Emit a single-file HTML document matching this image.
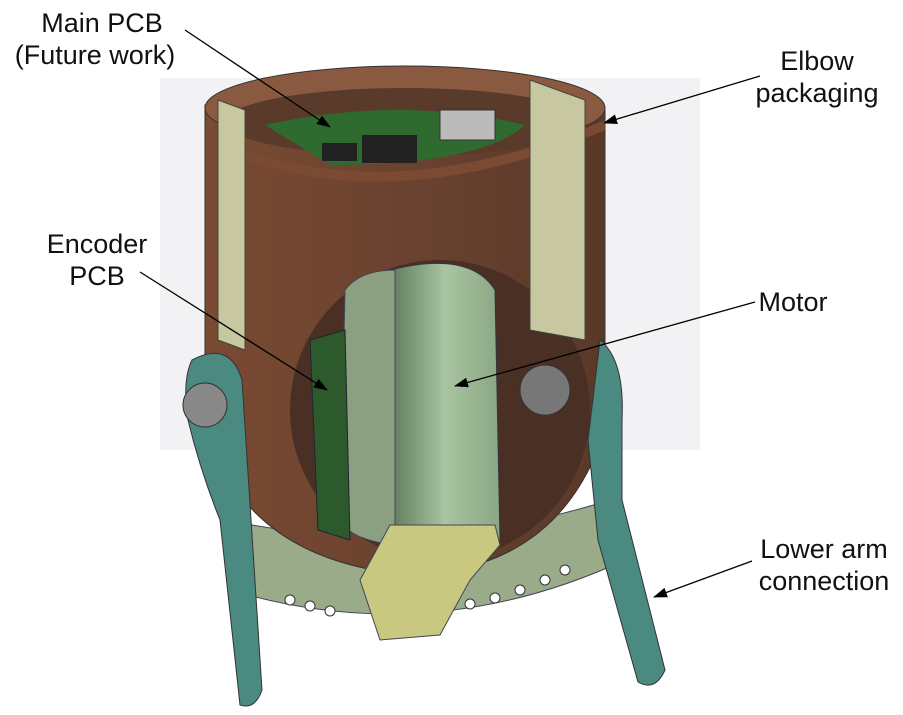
<!DOCTYPE html>
<html><head><meta charset="utf-8"><style>
html,body{margin:0;padding:0;background:#fff;}
svg{display:block;}
text{font-family:"Liberation Sans",sans-serif;font-size:27px;fill:#111;}
</style></head><body>
<svg width="903" height="715" viewBox="0 0 903 715">
<defs>
<marker id="ah" markerWidth="14" markerHeight="10" refX="13" refY="5" orient="auto" markerUnits="userSpaceOnUse"><path d="M0,0 L14,5 L0,10 z" fill="#000"/></marker>
<linearGradient id="brown" x1="0" x2="1"><stop offset="0" stop-color="#7a4a32"/><stop offset="0.5" stop-color="#6a4230"/><stop offset="1" stop-color="#5a3828"/></linearGradient>
<linearGradient id="motor" x1="0" x2="1"><stop offset="0" stop-color="#5f7a5c"/><stop offset="0.5" stop-color="#a8c4a0"/><stop offset="1" stop-color="#8aa684"/></linearGradient>
</defs>
<rect x="160" y="78" width="540" height="372" fill="#f2f2f4"/>
<path d="M225,520 Q420,560 610,500 L625,560 Q430,650 230,590 Z" fill="#9aab8a" stroke="#445" stroke-width="1"/>
<g fill="#fff" stroke="#333" stroke-width="1">
<circle cx="290" cy="600" r="5"/><circle cx="310" cy="606" r="5"/><circle cx="330" cy="611" r="5"/><circle cx="470" cy="604" r="5"/><circle cx="495" cy="598" r="5"/><circle cx="520" cy="590" r="5"/><circle cx="545" cy="580" r="5"/><circle cx="565" cy="570" r="5"/></g>
<path d="M205,105 L205,420 Q240,560 410,575 Q560,570 605,430 L605,110 Z" fill="url(#brown)" stroke="#333"/>
<ellipse cx="405" cy="108" rx="200" ry="42" fill="#8a5a40" stroke="#333"/>
<ellipse cx="405" cy="122" rx="180" ry="34" fill="#5a3a2a"/>
<path d="M265,125 Q400,95 525,125 Q480,165 330,165 Z" fill="#2f6a2f"/>
<rect x="362" y="135" width="55" height="28" fill="#222"/>
<rect x="322" y="143" width="35" height="18" fill="#222"/>
<rect x="440" y="110" width="55" height="30" fill="#bbb" stroke="#333"/>
<path d="M245,150 Q405,205 605,120 L605,130 Q405,215 245,160 Z" fill="#7a4a32"/>
<ellipse cx="440" cy="410" rx="150" ry="150" fill="#4a3024"/>
<path d="M390,270 Q470,250 495,290 L500,540 Q440,560 390,545 Z" fill="url(#motor)" stroke="#334"/>
<path d="M345,290 Q360,270 395,270 L395,545 Q350,540 340,520 Z" fill="#8aa080" stroke="#445"/>
<path d="M310,340 L345,330 L350,540 L318,530 Z" fill="#2d5a2d" stroke="#223"/>
<circle cx="545" cy="390" r="25" fill="#777" stroke="#333"/>
<path d="M390,525 L495,525 L500,545 L470,580 L440,635 L380,640 L360,580 Z" fill="#c8c880" stroke="#445"/>
<path d="M218,100 L245,110 L245,350 L218,340 Z" fill="#c8c8a0" stroke="#444"/>
<path d="M530,80 L585,100 L585,340 L530,330 Z" fill="#c8c8a0" stroke="#444"/>
<path d="M192,360 Q230,340 242,380 L262,690 Q255,710 240,705 L220,520 Q200,470 188,420 Q182,380 192,360 Z" fill="#4a8a80" stroke="#333"/>
<circle cx="205" cy="405" r="22" fill="#888" stroke="#333"/>
<path d="M600,340 Q625,360 622,420 L622,500 L665,670 Q655,692 638,682 L598,540 L588,440 Z" fill="#4a8a80" stroke="#333"/>
<text x="102" y="32" text-anchor="middle">Main PCB</text>
<text x="95" y="64" text-anchor="middle">(Future work)</text>
<text x="817" y="70" text-anchor="middle">Elbow</text>
<text x="817" y="102" text-anchor="middle">packaging</text>
<text x="97" y="253" text-anchor="middle">Encoder</text>
<text x="97" y="285" text-anchor="middle">PCB</text>
<text x="793" y="311" text-anchor="middle">Motor</text>
<text x="824" y="558" text-anchor="middle">Lower arm</text>
<text x="824" y="590" text-anchor="middle">connection</text>
<g stroke="#000" stroke-width="1.3" marker-end="url(#ah)">
<line x1="185" y1="30" x2="330" y2="127"/>
<line x1="760" y1="76" x2="604" y2="123"/>
<line x1="140" y1="272" x2="327" y2="390"/>
<line x1="755" y1="302" x2="455" y2="386"/>
<line x1="752" y1="561" x2="654" y2="597"/>
</g>
</svg>
</body></html>
